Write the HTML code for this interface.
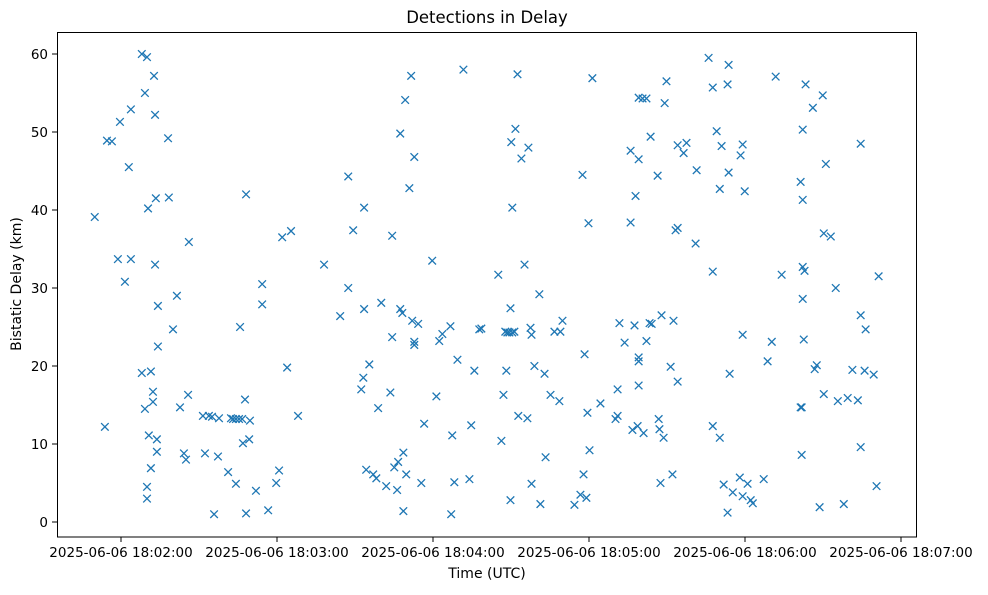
<!DOCTYPE html>
<html><head><meta charset="utf-8">
<style>
body{margin:0;background:#fff;}
svg text{font-family:"DejaVu Sans","Liberation Sans",sans-serif;fill:#000;}
</style></head>
<body>
<svg id="chart" width="988" height="590" xmlns="http://www.w3.org/2000/svg">
<text x="487" y="23" font-size="16.5" text-anchor="middle">Detections in Delay</text>
<g id="marks"></g>
<g id="axes"></g>
<rect x="57.5" y="32.5" width="859" height="504.5" fill="none" stroke="#000" stroke-width="1"/>
<text x="487" y="578" font-size="14" text-anchor="middle">Time (UTC)</text>
<text transform="translate(21,284) rotate(-90)" font-size="14" text-anchor="middle">Bistatic Delay (km)</text>
</svg>
<script>
// seconds after 18:02:00 UTC
const times=[-10.1,-6.2,-5.4,-3.5,-1.2,-0.4,1.5,3.0,3.8,3.8,8.0,8.0,9.2,9.2,10.0,10.0,10.0,10.4,10.7,11.5,11.5,12.3,12.3,12.7,13.1,13.1,13.4,13.8,13.8,14.2,14.2,18.1,18.4,20.0,21.5,22.7,24.2,25.0,25.8,26.1,31.5,32.3,33.8,35.0,35.8,37.3,37.7,41.2,42.3,43.1,44.2,44.2,45.4,45.8,46.6,46.9,47.7,48.1,48.1,49.3,49.6,51.9,54.3,54.3,56.6,59.7,60.8,62.0,63.9,65.4,68.1,78.1,84.3,87.4,87.4,89.3,92.4,93.2,93.5,93.5,94.3,95.5,97.0,98.2,98.9,100.1,102.0,103.6,104.3,104.3,105.1,106.2,106.6,107.4,107.4,108.2,108.6,108.6,109.3,109.7,110.9,111.6,112.0,112.8,112.8,112.8,114.3,115.5,116.6,119.7,121.3,122.4,123.6,126.7,127.0,127.4,128.2,129.4,131.7,134.0,134.7,135.9,137.8,138.6,145.1,146.3,147.1,147.8,148.2,148.6,149.4,149.8,149.8,150.1,150.5,150.5,151.3,151.7,152.5,152.8,154.0,155.2,156.3,156.7,157.5,157.9,157.9,159.0,160.9,161.3,162.9,163.3,165.2,166.7,168.6,169.0,169.8,174.4,176.7,177.5,177.9,178.3,179.0,179.4,179.8,180.2,181.3,184.4,190.2,191.0,191.0,191.7,193.7,196.0,196.0,196.7,197.5,197.9,198.7,199.1,199.1,199.1,199.1,199.1,200.6,201.0,202.1,202.1,203.3,203.7,204.1,206.4,206.8,207.1,207.5,207.9,208.7,209.1,209.8,211.4,212.1,212.5,213.3,214.1,214.1,214.1,216.4,217.5,221.0,221.4,226.0,227.6,227.6,227.6,229.1,230.3,230.3,231.0,231.8,233.3,233.3,233.7,233.7,234.1,235.3,238.0,238.3,239.1,239.1,239.1,239.9,241.0,242.2,243.0,247.2,248.7,250.3,251.8,254.1,261.4,261.4,261.8,261.8,262.2,262.2,262.2,262.2,262.6,262.9,263.3,266.1,266.8,267.6,268.7,269.9,270.3,270.3,271.1,273.0,274.9,275.7,278.0,279.5,281.3,283.4,284.5,284.5,284.5,286.0,286.4,289.5,290.6,291.4];
const delays=[39.1,12.2,48.9,48.8,33.7,51.3,30.8,45.5,33.7,52.9,60,19.1,55,14.5,59.6,4.5,3,40.2,11.1,19.3,6.9,15.4,16.7,57.2,33,52.2,41.5,9,10.6,27.7,22.5,49.2,41.6,24.7,29,14.7,8.8,8,16.3,35.9,13.6,8.8,13.6,13.5,1,8.4,13.3,6.4,13.3,13.2,4.9,13.2,13.2,25,13.2,10.1,15.7,42,1.1,10.6,13,4,30.5,27.9,1.5,5,6.6,36.5,19.8,37.3,13.6,33,26.4,44.3,30,37.4,17,18.5,27.3,40.3,6.7,20.2,6.1,5.6,14.6,28.1,4.6,16.6,36.7,23.7,7,4.1,7.7,27.3,49.8,26.8,8.9,1.4,54.1,6.1,42.8,57.2,25.8,46.8,23.1,22.7,25.4,5,12.6,33.5,16.1,23.2,24.1,25.1,1,11.1,5.1,20.8,58,5.5,12.4,19.4,24.7,24.8,31.7,10.4,16.3,24.4,19.4,24.3,24.3,2.8,27.4,48.7,40.3,24.3,24.4,50.4,57.4,13.6,46.6,33,13.3,48,24.9,24,4.9,20,29.2,2.3,19,8.3,16.3,24.4,15.5,24.4,25.8,2.2,3.5,44.5,6.1,21.5,3.1,14,38.3,9.2,56.9,15.2,13.2,13.6,17,25.5,23,47.6,38.4,11.8,25.2,41.8,12.3,46.5,21.1,20.6,54.4,17.5,54.3,11.4,23.2,54.3,25.5,49.4,25.4,44.4,13.2,11.9,5,26.5,10.8,53.7,56.5,19.9,6.1,25.8,37.4,48.3,37.7,18,47.3,48.6,35.7,45.1,59.5,55.7,32.1,12.3,50.1,10.8,42.7,48.2,4.8,1.2,56.1,44.8,58.6,19,3.8,5.7,47,24,48.4,3.3,42.4,4.9,2.8,2.4,5.5,20.6,23.1,57.1,31.7,43.6,14.7,8.6,14.7,50.3,32.7,28.6,41.3,23.4,32.2,56.1,53.1,19.6,20.1,1.9,54.7,16.4,37,45.9,36.6,30,15.5,2.3,15.9,19.5,15.6,48.5,26.5,9.6,19.4,24.7,18.9,4.6,31.5];
const xTicks=[0,60,120,180,240,300];
const xTickLabels=["2025-06-06 18:02:00","2025-06-06 18:03:00","2025-06-06 18:04:00","2025-06-06 18:05:00","2025-06-06 18:06:00","2025-06-06 18:07:00"];
const yTicks=[0,10,20,30,40,50,60];

const NS="http://www.w3.org/2000/svg";
function xScale(t){return 121+t*2.6;}
function yScale(v){return 522-v*7.8;}
const marks=document.getElementById('marks');
const axes=document.getElementById('axes');
for(let i=0;i<times.length;i++){
  const cx=xScale(times[i]),cy=yScale(delays[i]),r=3.8;
  const p=document.createElementNS(NS,'path');
  p.setAttribute('d',`M${cx-r},${cy-r}L${cx+r},${cy+r}M${cx-r},${cy+r}L${cx+r},${cy-r}`);
  p.setAttribute('stroke','#1f77b4');p.setAttribute('stroke-width','1.3');p.setAttribute('fill','none');
  
  
  marks.appendChild(p);
}
xTicks.forEach((t,i)=>{
  const x=xScale(t);
  const l=document.createElementNS(NS,'line');
  l.setAttribute('x1',x);l.setAttribute('x2',x);l.setAttribute('y1',537);l.setAttribute('y2',542);l.setAttribute('stroke','#000');
  
  
  axes.appendChild(l);
  const tx=document.createElementNS(NS,'text');
  tx.setAttribute('x',x);tx.setAttribute('y',557);tx.setAttribute('font-size','13.5');tx.setAttribute('text-anchor','middle');
  tx.textContent=xTickLabels[i];
  
  
  axes.appendChild(tx);
});
yTicks.forEach(v=>{
  const y=yScale(v);
  const l=document.createElementNS(NS,'line');
  l.setAttribute('x1',52);l.setAttribute('x2',57);l.setAttribute('y1',y);l.setAttribute('y2',y);l.setAttribute('stroke','#000');
  
  
  axes.appendChild(l);
  const tx=document.createElementNS(NS,'text');
  tx.setAttribute('x',48);tx.setAttribute('y',y+5);tx.setAttribute('font-size','13.5');tx.setAttribute('text-anchor','end');
  tx.textContent=v;
  
  
  axes.appendChild(tx);
});
</script>
</body></html>
